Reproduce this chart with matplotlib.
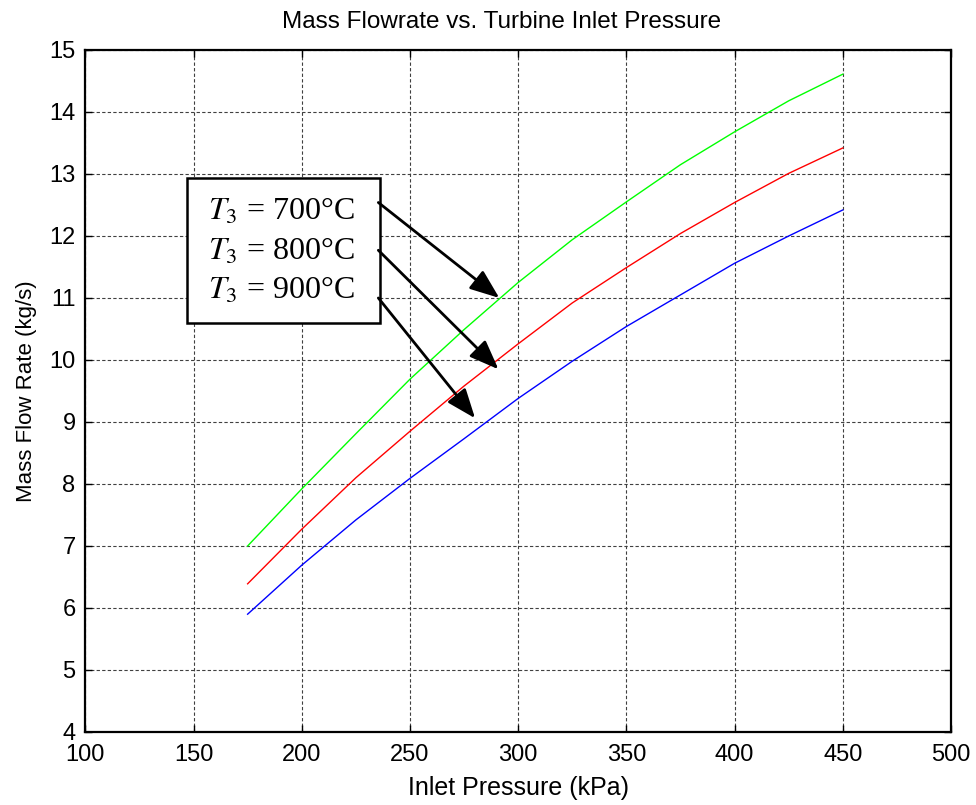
from matplotlib import pyplot as plt
from matplotlib.patches import Rectangle

# inlet pressure (kPa) and mass flow rate (kg/s)
pressure = [175, 200, 225, 250, 275, 300, 325, 350, 375, 400, 425, 450]
flow_700 = [7.00, 7.92, 8.81, 9.69, 10.49, 11.25, 11.94, 12.55, 13.15, 13.68, 14.18, 14.61]
flow_800 = [6.39, 7.27, 8.10, 8.85, 9.58, 10.26, 10.92, 11.49, 12.04, 12.54, 13.01, 13.42]
flow_900 = [5.90, 6.69, 7.42, 8.09, 8.73, 9.38, 9.98, 10.54, 11.05, 11.56, 12.00, 12.42]

labels = ['$T_3$ = 700\u00b0C', '$T_3$ = 800\u00b0C', '$T_3$ = 900\u00b0C']
label_y = [12.26, 11.62, 10.99]
# arrow start / tip positions in data units
arrow_start = [(235.4, 12.54), (235.4, 11.77), (235.4, 11.0)]
arrow_tip = [(291.3, 11.0), (290.9, 9.85), (280.1, 9.06)]

plt.rcParams['font.family'] = ['Liberation Sans', 'DejaVu Sans']
plt.rcParams['mathtext.fontset'] = 'stix'

fig = plt.figure(figsize=(9.76, 8.05), dpi=100)
ax = fig.add_axes([0.0874, 0.0907, 0.8870, 0.8472])

ax.plot(pressure, flow_700, color=(0, 1, 0), lw=1)
ax.plot(pressure, flow_800, color=(1, 0, 0), lw=1)
ax.plot(pressure, flow_900, color=(0, 0, 1), lw=1)

ax.set_xlim(100, 500)
ax.set_ylim(4, 15)
ax.set_xticks(range(100, 501, 50))
ax.set_yticks(range(4, 16))
ax.grid(True, color='0.25', linestyle=(0, (3, 2)), linewidth=0.8)
ax.tick_params(direction='in', length=5, width=1, top=True, right=True,
               labelsize=17)
ax.tick_params(axis='x', pad=9)
ax.tick_params(axis='y', pad=7)
for sp in ax.spines.values():
    sp.set_linewidth(1.6)

ax.set_title('Mass Flowrate vs. Turbine Inlet Pressure', fontsize=17.5,
             pad=16, x=0.481)
ax.set_xlabel('Inlet Pressure (kPa)', fontsize=18, labelpad=7)
ax.set_ylabel('Mass Flow Rate (kg/s)', fontsize=16, labelpad=9)

# label box
ax.add_patch(Rectangle((147.0, 10.597), 89.2, 2.338, fc='white', ec='black',
                       lw=1.8, zorder=3))
for txt, y in zip(labels, label_y):
    ax.text(156.7, y, txt, fontsize=23, family='Liberation Serif',
            ha='left', va='baseline', zorder=4)

for start, tip in zip(arrow_start, arrow_tip):
    ax.annotate('', xy=tip, xytext=start,
                arrowprops=dict(arrowstyle='-|>,head_length=0.9,head_width=0.35',
                                mutation_scale=20, lw=2, color='black',
                                shrinkA=0, shrinkB=0))

plt.savefig('out.png', dpi=100)
